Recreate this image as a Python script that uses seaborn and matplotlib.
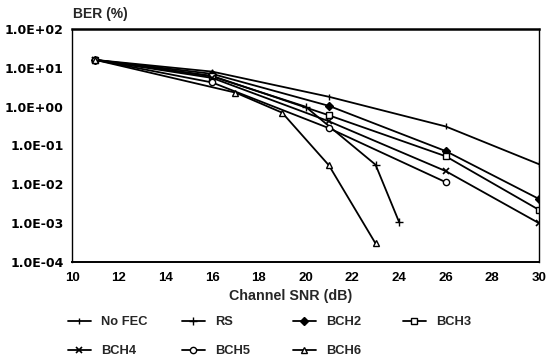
import numpy as np
import pandas as pd
import matplotlib
matplotlib.use("Agg")
import matplotlib.pyplot as plt
import seaborn as sns
from matplotlib.ticker import LogLocator, FuncFormatter, NullFormatter, FixedLocator
from matplotlib.lines import Line2D

# ---- data ----
series_names = ["No FEC", "RS", "BCH2", "BCH3", "BCH4", "BCH5", "BCH6"]

snr_nofec = [11, 16, 21, 26, 30]
ber_nofec = [16, 8.0, 1.8, 0.31, 0.033]

snr_rs = [11, 16, 20, 23, 24]
ber_rs = [16, 6.0, 1.0, 0.032, 0.0011]

snr_bch2 = [11, 16, 21, 26, 30]
ber_bch2 = [16, 7.0, 1.05, 0.072, 0.0042]

snr_bch3 = [11, 16, 21, 26, 30]
ber_bch3 = [16, 6.2, 0.6, 0.053, 0.0022]

snr_bch4 = [11, 16, 21, 26, 30]
ber_bch4 = [16, 5.5, 0.42, 0.022, 0.001]

snr_bch5 = [11, 16, 21, 26]
ber_bch5 = [16, 4.2, 0.28, 0.0114]

snr_bch6 = [11, 17, 19, 21, 23]
ber_bch6 = [16, 2.3, 0.7, 0.031, 0.0003]

x_ticks = [10, 12, 14, 16, 18, 20, 22, 24, 26, 28, 30]
y_ticks = [1e-4, 1e-3, 1e-2, 1e-1, 1e0, 1e1, 1e2]

data = {
    "No FEC": (snr_nofec, ber_nofec),
    "RS": (snr_rs, ber_rs),
    "BCH2": (snr_bch2, ber_bch2),
    "BCH3": (snr_bch3, ber_bch3),
    "BCH4": (snr_bch4, ber_bch4),
    "BCH5": (snr_bch5, ber_bch5),
    "BCH6": (snr_bch6, ber_bch6),
}

rows = []
for name in series_names:
    xs, ys = data[name]
    for xv, yv in zip(xs, ys):
        rows.append({"series": name, "snr": xv, "ber": yv})
df = pd.DataFrame(rows)

# ---- styles ----
styles = {
    "No FEC": dict(marker="|", ms=4, mfc="black", mew=1.0),
    "RS": dict(marker="+", ms=6, mfc="black", mew=1.0),
    "BCH2": dict(marker="D", ms=4, mfc="black", mew=1.0),
    "BCH3": dict(marker="s", ms=4.5, mfc="white", mew=1.0),
    "BCH4": dict(marker="x", ms=5, mfc="black", mew=1.2),
    "BCH5": dict(marker="o", ms=4.5, mfc="white", mew=1.0),
    "BCH6": dict(marker="^", ms=5, mfc="white", mew=1.0),
}

sns.set_style("white")
plt.rcParams['font.family'] = ['Liberation Sans', 'DejaVu Sans']
plt.rcParams['font.weight'] = 'bold'

W, H = 548, 360
fig = plt.figure(figsize=(W / 100, H / 100), dpi=100)
ax = fig.add_axes([72 / W, 1 - 262 / H, (539 - 72) / W, (262 - 29) / H])

for name in series_names:
    sub = df[df["series"] == name]
    st = styles[name]
    sns.lineplot(data=sub, x="snr", y="ber", ax=ax, color="black", linewidth=1.3,
                 marker=st["marker"], markersize=st["ms"], markerfacecolor=st["mfc"],
                 markeredgecolor="black", markeredgewidth=st["mew"], legend=False,
                 estimator=None, sort=False)

ax.set_yscale("log")
ax.set_xlim(10, 30)
ax.set_ylim(1e-4, 1e2)
ax.xaxis.set_major_locator(FixedLocator(x_ticks))
ax.yaxis.set_major_locator(FixedLocator(y_ticks))
ax.yaxis.set_minor_locator(LogLocator(base=10, subs=np.arange(2, 10), numticks=20))
ax.yaxis.set_minor_formatter(NullFormatter())
ax.yaxis.set_major_formatter(FuncFormatter(lambda v, p: f"{v:.1E}"))
ax.xaxis.set_major_formatter(FuncFormatter(lambda v, p: f"{int(v)}"))
ax.tick_params(axis="both", which="major", direction="in", length=5, width=1,
               colors="black", pad=5)
ax.tick_params(axis="x", which="major", labelsize=9.5, pad=7)
ax.tick_params(axis="y", which="major", labelsize=9, pad=6)
ax.tick_params(axis="y", which="minor", direction="in", length=3, width=0.8)
ax.tick_params(top=False, right=False, which="both")
for lbl in ax.get_xticklabels():
    lbl.set_fontweight("bold")
for lbl in ax.get_yticklabels():
    lbl.set_fontweight("bold")
    lbl.set_family("DejaVu Sans")
for sp in ax.spines.values():
    sp.set_color("black")
    sp.set_linewidth(1.0)
ax.spines["top"].set_linewidth(1.8)
ax.spines["bottom"].set_linewidth(1.4)
ax.set_xlabel("")
ax.set_ylabel("")

fig.text(73 / W, 1 - 14 / H, "BER (%)", ha="left", va="center", fontsize=10, fontweight="bold")
fig.text(291 / W, 1 - 296 / H, "Channel SNR (dB)", ha="center", va="center", fontsize=10.3,
         fontweight="bold")

# ---- legend: 4 columns x 2 rows ----
col_x = [68, 182, 293, 403]
row_y = [322, 351]
for i, name in enumerate(series_names):
    r, c = divmod(i, 4)
    st = styles[name]
    h = Line2D([0], [0], color="black", lw=1.3, marker=st["marker"], markersize=st["ms"],
               markerfacecolor=st["mfc"], markeredgecolor="black", markeredgewidth=st["mew"])
    fig.legend(handles=[h], labels=[name], loc="center left",
               bbox_to_anchor=(col_x[c] / W, 1 - row_y[r] / H), frameon=False,
               borderpad=0, borderaxespad=0, handlelength=1.76, handletextpad=0.8,
               numpoints=1, prop=dict(size=9.3, weight="bold"))

fig.savefig("out.png", dpi=100)
